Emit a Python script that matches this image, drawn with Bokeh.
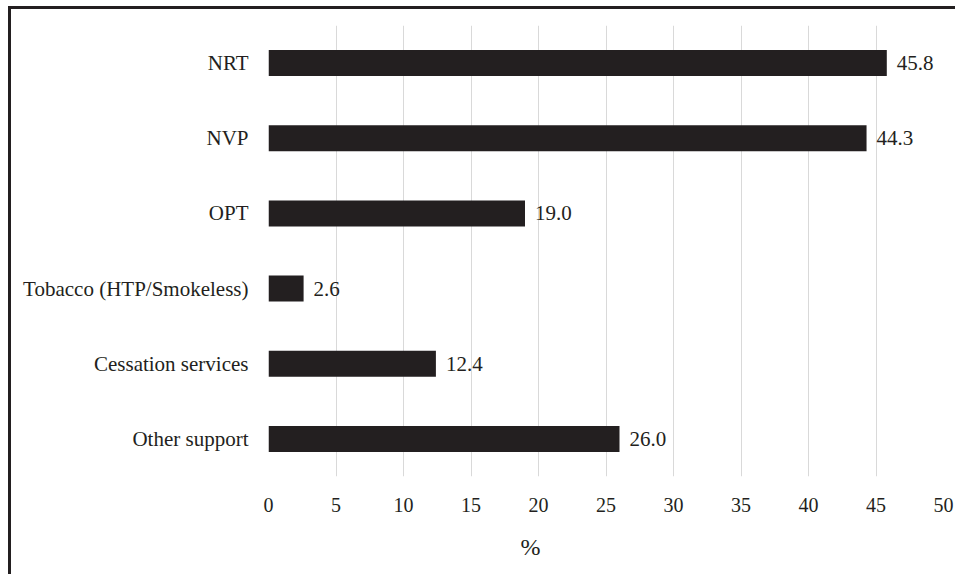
from bokeh.plotting import figure
from bokeh.models import ColumnDataSource, FactorRange, Title
from bokeh.core.properties import value
from bokeh.embed import file_html
from bokeh.resources import INLINE

categories = ["NRT", "NVP", "OPT", "Tobacco (HTP/Smokeless)", "Cessation services", "Other support"]
percentages = [45.8, 44.3, 19.0, 2.6, 12.4, 26.0]
value_labels = ["45.8", "44.3", "19.0", "2.6", "12.4", "26.0"]
x_ticks = [0, 5, 10, 15, 20, 25, 30, 35, 40, 45, 50]
axis_title = "%"

FONT = "Liberation Serif"
INK = "#231f20"
src = ColumnDataSource(dict(cat=categories, val=percentages, lab=value_labels))

p = figure(width=947, height=568, output_backend="svg", toolbar_location=None,
           y_range=FactorRange(*reversed(categories), range_padding=0),
           x_range=(0, 50),
           min_border_left=257, min_border_right=15, min_border_top=16, min_border_bottom=100)
p.hbar(y="cat", right="val", left=0, height=0.345, source=src,
       fill_color=INK, line_color=None)
p.text(x="val", y="cat", text="lab", source=src, x_offset=10,
       text_baseline="middle", text_align="left",
       text_font=value(FONT), text_font_size="21px", text_color=INK)

p.outline_line_color = None
p.ygrid.grid_line_color = None
p.xgrid.grid_line_color = "#d9d9d9"
p.xgrid.grid_line_width = 1
p.xaxis.ticker = x_ticks
p.xaxis.axis_line_color = None
p.xaxis.major_tick_line_color = None
p.xaxis.minor_tick_line_color = None
p.xaxis.major_label_standoff = 15
p.xaxis.major_label_text_font = FONT
p.xaxis.major_label_text_font_size = "20px"
p.xaxis.major_label_text_color = INK

# axis title "%" sits left of the frame centre in the reference
p.add_layout(Title(text=axis_title, align="left", offset=252, standoff=35,
                   text_font=FONT, text_font_size="24px", text_font_style="normal",
                   text_color=INK), "below")

p.yaxis.axis_line_color = None
p.yaxis.major_tick_line_color = None
p.yaxis.minor_tick_line_color = None
p.yaxis.major_label_standoff = 14
p.yaxis.major_label_text_font = FONT
p.yaxis.major_label_text_font_size = "21px"
p.yaxis.major_label_text_color = INK

p.styles = {"border-left": "3px solid " + INK, "border-top": "3px solid " + INK,
            "margin-left": "8px", "margin-top": "6px"}

open("out.html", "w").write(file_html(p, INLINE))
